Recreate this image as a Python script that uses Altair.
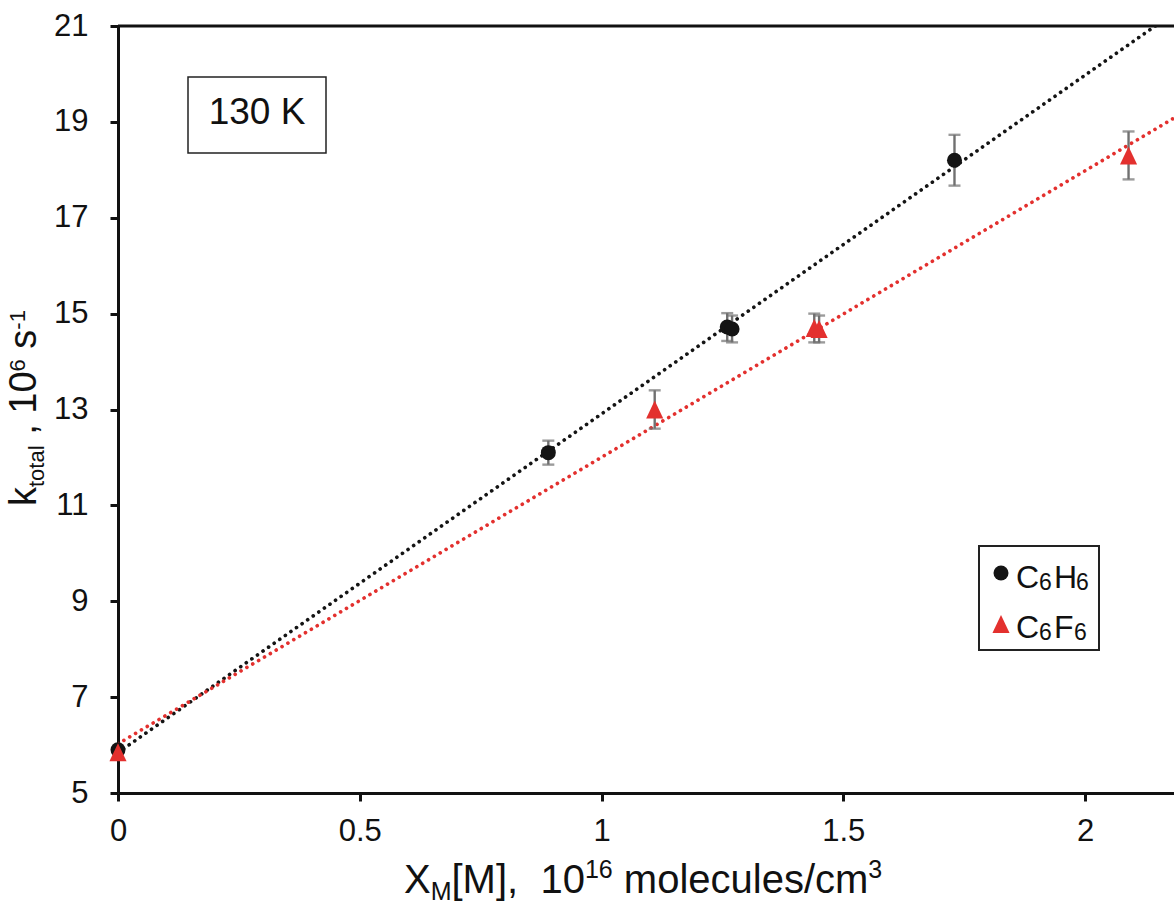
import altair as alt
import pandas as pd

FONT = "Liberation Sans"

# C6H6: total decay rate vs. scaled quencher density
c6h6_x = [0.0, 0.89, 1.26, 1.27, 1.73]
c6h6_k = [5.9, 12.1, 14.72, 14.68, 18.2]
c6h6_err = [0.0, 0.25, 0.29, 0.28, 0.53]

# C6F6
c6f6_x = [0.0, 1.11, 1.44, 1.45, 2.09]
c6f6_k = [5.85, 13.0, 14.7, 14.68, 18.3]
c6f6_err = [0.0, 0.4, 0.3, 0.28, 0.5]

series = ["C6H6", "C6F6"]
series_colors = ["#141414", "#e3302e"]
x_ticks = [0, 0.5, 1, 1.5, 2]
y_ticks = [5, 7, 9, 11, 13, 15, 17, 19, 21]
x_domain = [0, 2.184]
y_domain = [5, 21]
temperature = "130 K"

W, H = 1056, 767
LEFT, TOP = 118, 26
AXIS_COLOR = "#111111"
BAR_COLOR = "#707070"

# Arial / Liberation Sans advance widths (per em)
ADV = {" ": .278, ",": .278, "-": .333, "/": .278, "[": .278, "]": .278,
       "C": .722, "F": .611, "H": .722, "K": .667, "M": .833, "X": .667,
       "a": .556, "c": .5, "e": .556, "k": .5, "l": .222, "m": .833,
       "o": .556, "s": .5, "t": .278, "u": .556}
for d in "0123456789":
    ADV[d] = .556


def run_width(text, size):
    return sum(ADV[c] for c in text) * size


df = pd.concat([
    pd.DataFrame({"x": c6h6_x, "k": c6h6_k, "err": c6h6_err, "series": series[0]}),
    pd.DataFrame({"x": c6f6_x, "k": c6f6_k, "err": c6f6_err, "series": series[1]}),
], ignore_index=True)
df["lo"] = df["k"] - df["err"]
df["hi"] = df["k"] + df["err"]
err_df = df[df["err"] > 0]

xs = alt.Scale(domain=x_domain, nice=False, zero=False)
ys = alt.Scale(domain=y_domain, nice=False, zero=False)
X = alt.X("x:Q", scale=xs, axis=alt.Axis(values=x_ticks, format="~g", title="", labelPadding=15,
                                         labelFlush=False))
Y = alt.Y("k:Q", scale=ys, axis=alt.Axis(values=y_ticks, title="", labelPadding=22))
color = alt.Color("series:N", scale=alt.Scale(domain=series, range=series_colors), legend=None)

frame_top = alt.Chart(pd.DataFrame({"k": [y_domain[1]]})).mark_rule(
    color=AXIS_COLOR, strokeWidth=3).encode(y=alt.Y("k:Q", scale=ys))

fits = alt.Chart(df).transform_regression(
    "x", "k", groupby=["series"], extent=x_domain
).mark_line(clip=True, strokeDash=[0.01, 6.8], strokeCap="round", strokeWidth=3.7).encode(
    x=X, y=Y, color=color)

bars = alt.Chart(err_df).mark_rule(color=BAR_COLOR, strokeWidth=2.4).encode(
    x=X, y=alt.Y("lo:Q", scale=ys), y2="hi:Q")
caps_lo = alt.Chart(err_df).mark_tick(color=BAR_COLOR, orient="horizontal", size=12, thickness=2.4).encode(
    x=X, y=alt.Y("lo:Q", scale=ys))
caps_hi = alt.Chart(err_df).mark_tick(color=BAR_COLOR, orient="horizontal", size=12, thickness=2.4).encode(
    x=X, y=alt.Y("hi:Q", scale=ys))

TRI = "M0,-1L-0.95,1L0.95,1Z"
circles = alt.Chart(df[df["series"] == series[0]]).mark_point(
    shape="circle", filled=True, size=225, color=series_colors[0], opacity=1).encode(x=X, y=Y)
tris = alt.Chart(df[df["series"] == series[1]]).mark_point(
    shape=TRI, filled=True, size=324, color=series_colors[1], opacity=1).encode(x=X, y=Y)

one = pd.DataFrame({"a": [0]})


def box(x0, y0, x1, y1, width):
    return alt.Chart(one).mark_rect(fill="white", stroke="#222222", strokeWidth=width).encode(
        x=alt.value(x0 - LEFT), x2=alt.value(x1 - LEFT),
        y=alt.value(y0 - TOP), y2=alt.value(y1 - TOP))


def label(text, px, py, size, angle=0, align="left"):
    kw = dict(text=text, font=FONT, fontSize=size, color="#111111", align=align, baseline="alphabetic")
    if angle:
        kw["angle"] = angle
    return alt.Chart(one).mark_text(**kw).encode(x=alt.value(px - LEFT), y=alt.value(py - TOP))


def hrun(pieces, x0, base):
    """Lay text pieces left to right; shift moves a piece's baseline (sub/superscripts)."""
    out, x = [], x0
    for text, size, shift in pieces:
        lead = run_width(text[:len(text) - len(text.lstrip())], size)
        out.append(label(text.strip(), x + lead, base + shift, size))
        x += run_width(text, size)
    return out


def vrun(pieces, y0, base):
    """Same as hrun, but reading bottom to top (rotated axis title)."""
    out, y = [], y0
    for text, size, shift in pieces:
        lead = run_width(text[:len(text) - len(text.lstrip())], size)
        out.append(label(text.strip(), base + shift, y - lead, size, angle=270))
        y -= run_width(text, size)
    return out


MAIN_T, SUB_T = 40, 25
x_title = hrun([("X", MAIN_T, 0), ("M", SUB_T, 7), ("[M],  ", MAIN_T, 0), ("10", MAIN_T, 0),
                ("16", SUB_T, -15), (" molecules/cm", MAIN_T, 0), ("3", SUB_T, -15)], 404, 893)

MAIN_Y, SUB_Y = 38, 22
y_title = vrun([("k", MAIN_Y, 0), ("total", SUB_Y, 8), (" , ", MAIN_Y, 0), ("10", MAIN_Y, 0),
                ("6", SUB_Y, -11), (" s", MAIN_Y, 0), ("-1", SUB_Y, -11)], 506, 36)

temp_box = box(188, 77, 326, 153, 1.5)
temp_text = label(temperature, 257, 124, 37, align="center")

legend_box = box(979, 546, 1099, 650, 2)
leg_circle = alt.Chart(one).mark_point(shape="circle", filled=True, size=225, color=series_colors[0],
                                       opacity=1).encode(x=alt.value(1001 - LEFT), y=alt.value(573 - TOP))
leg_tri = alt.Chart(one).mark_point(shape=TRI, filled=True, size=324, color=series_colors[1],
                                    opacity=1).encode(x=alt.value(1001 - LEFT), y=alt.value(624 - TOP))
leg_h = [label("C", 1016, 588, 32), label("6", 1039, 590, 23), label("H", 1054, 588, 32), label("6", 1076, 590, 23)]
leg_f = [label("C", 1016, 638, 32), label("6", 1039, 640, 23), label("F", 1054, 638, 32), label("6", 1074, 640, 23)]

chart = alt.layer(
    frame_top, fits, bars, caps_lo, caps_hi, circles, tris,
    temp_box, temp_text, legend_box, leg_circle, leg_tri,
    *leg_h, *leg_f, *x_title, *y_title,
).properties(
    width=W, height=H,
    autosize=alt.AutoSizeParams(type="none"),
    padding={"left": LEFT, "top": TOP, "right": 0, "bottom": 905 - TOP - H},
    background="white",
).configure_view(strokeWidth=0).configure_axis(
    grid=False, domainColor=AXIS_COLOR, domainWidth=3, tickColor=AXIS_COLOR, tickWidth=3, tickSize=8,
    labelFont=FONT, labelFontSize=31, labelColor="#111111",
)

chart.save("out.html", embed_options={"renderer": "svg", "actions": False})
